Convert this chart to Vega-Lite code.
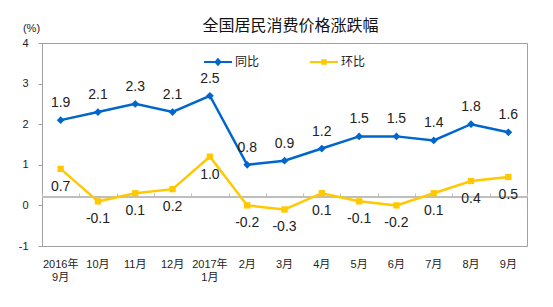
{
  "$schema": "https://vega.github.io/schema/vega-lite/v6.json",
  "width": 485,
  "height": 203,
  "autosize": {"type": "none"},
  "padding": {"left": 42, "top": 43, "right": 26, "bottom": 61},
  "background": "white",
  "config": {
    "view": {"stroke": "#a0a0a0", "strokeWidth": 1},
    "font": "Liberation Sans, Noto Sans CJK SC",
    "locale": {"number": {"decimal": ".", "thousands": ",", "grouping": [3], "currency": ["", ""], "minus": "-"}},
    "legend": {
      "orient": "none", "legendX": 162, "legendY": 5, "direction": "horizontal",
      "title": null, "columns": 2, "columnPadding": 50, "padding": 0,
      "symbolSize": 784, "symbolOpacity": 1, "symbolStrokeWidth": 0,
      "labelFont": "Noto Sans CJK SC", "labelFontSize": 12, "labelColor": "#222222", "labelOffset": 3
    }
  },
  "title": {
    "text": "全国居民消费价格涨跌幅",
    "font": "Noto Sans CJK SC",
    "fontSize": 16,
    "fontWeight": "normal",
    "color": "#111111",
    "anchor": "middle",
    "dx": 6,
    "offset": -12
  },
  "data": {
    "values": [
      {"month": "2016年|9月", "series": "同比", "value": 1.9},
      {"month": "10月", "series": "同比", "value": 2.1},
      {"month": "11月", "series": "同比", "value": 2.3},
      {"month": "12月", "series": "同比", "value": 2.1},
      {"month": "2017年|1月", "series": "同比", "value": 2.5},
      {"month": "2月", "series": "同比", "value": 0.8},
      {"month": "3月", "series": "同比", "value": 0.9},
      {"month": "4月", "series": "同比", "value": 1.2},
      {"month": "5月", "series": "同比", "value": 1.5},
      {"month": "6月", "series": "同比", "value": 1.5},
      {"month": "7月", "series": "同比", "value": 1.4},
      {"month": "8月", "series": "同比", "value": 1.8},
      {"month": "9月", "series": "同比", "value": 1.6},
      {"month": "2016年|9月", "series": "环比", "value": 0.7},
      {"month": "10月", "series": "环比", "value": -0.1},
      {"month": "11月", "series": "环比", "value": 0.1},
      {"month": "12月", "series": "环比", "value": 0.2},
      {"month": "2017年|1月", "series": "环比", "value": 1.0},
      {"month": "2月", "series": "环比", "value": -0.2},
      {"month": "3月", "series": "环比", "value": -0.3},
      {"month": "4月", "series": "环比", "value": 0.1},
      {"month": "5月", "series": "环比", "value": -0.1},
      {"month": "6月", "series": "环比", "value": -0.2},
      {"month": "7月", "series": "环比", "value": 0.1},
      {"month": "8月", "series": "环比", "value": 0.4},
      {"month": "9月", "series": "环比", "value": 0.5}
    ]
  },
  "resolve": {"axis": {"x": "independent"}},
  "layer": [
    {
      "mark": {"type": "rule", "color": "#bfbfbf", "strokeWidth": 1},
      "encoding": {
        "y": {"datum": 0, "type": "quantitative"}
      }
    },
    {
      "mark": {"type": "line", "strokeWidth": 2.5},
      "encoding": {
        "x": {
          "field": "month", "type": "nominal", "sort": null,
          "scale": {"paddingInner": 0, "paddingOuter": 0},
          "axis": {
            "orient": "bottom", "title": null, "domain": false, "ticks": false,
            "labelAngle": 0, "labelExpr": "split(datum.value, '|')",
            "labelFont": "Liberation Sans, Noto Sans CJK SC", "labelFontSize": 11,
            "labelColor": "#222222", "labelPadding": 12, "labelLineHeight": 13,
            "labelBaseline": "top"
          }
        },
        "y": {
          "field": "value", "type": "quantitative",
          "scale": {"domain": [-1.2, 3.8], "nice": false, "zero": false},
          "axis": {
            "values": [-1.2, -0.2, 0.8, 1.8, 2.8, 3.8],
            "labelExpr": "format(round(datum.value + 0.2), 'd')",
            "grid": false, "domain": false, "tickSize": 4, "tickColor": "#a0a0a0",
            "labelFontSize": 11, "labelColor": "#222222", "labelPadding": 10,
            "title": "(%)", "titleAngle": 0, "titleX": -11, "titleY": -15,
            "titleAlign": "center", "titleBaseline": "middle",
            "titleFontSize": 11, "titleFontWeight": "normal", "titleColor": "#222222"
          }
        },
        "color": {
          "field": "series", "type": "nominal",
          "scale": {"domain": ["同比", "环比"], "range": ["#0066cc", "#ffc800"]}
        }
      }
    },
    {
      "mark": {"type": "point", "opacity": 0, "filled": true},
      "encoding": {
        "x": {
          "field": "month", "type": "nominal", "sort": null,
          "axis": {
            "orient": "top", "offset": -154, "title": null, "labels": false,
            "domain": false, "ticks": true, "tickBand": "extent", "tickSize": 4, "tickColor": "#bfbfbf"
          }
        },
        "y": {"field": "value", "type": "quantitative"},
        "color": {"field": "series", "type": "nominal"},
        "shape": {
          "field": "series", "type": "nominal",
          "scale": {"domain": ["同比", "环比"], "range": [
            "M-1,-0.08H1V0.08H-1Z M0,-0.3L0.27,0L0,0.3L-0.27,0Z",
            "M-1,-0.08H1V0.08H-1Z M-0.2,-0.2H0.2V0.2H-0.2Z"
          ]}
        }
      }
    },
    {
      "transform": [{"filter": "datum.series === '同比'"}],
      "mark": {"type": "point", "shape": "diamond", "filled": true, "size": 60, "opacity": 1, "color": "#0066cc"},
      "encoding": {
        "x": {"field": "month", "type": "nominal", "sort": null, "axis": null},
        "y": {"field": "value", "type": "quantitative"}
      }
    },
    {
      "transform": [{"filter": "datum.series === '环比'"}],
      "mark": {"type": "point", "shape": "square", "filled": true, "size": 40, "opacity": 1, "color": "#ffc800"},
      "encoding": {
        "x": {"field": "month", "type": "nominal", "sort": null, "axis": null},
        "y": {"field": "value", "type": "quantitative"}
      }
    },
    {
      "transform": [{"filter": "datum.series === '同比'"}],
      "mark": {"type": "text", "dy": -17, "fontSize": 14, "color": "#222222", "baseline": "middle"},
      "encoding": {
        "x": {"field": "month", "type": "nominal", "sort": null, "axis": null},
        "y": {"field": "value", "type": "quantitative"},
        "text": {"field": "value", "type": "quantitative", "format": ".1f"}
      }
    },
    {
      "transform": [{"filter": "datum.series === '环比'"}],
      "mark": {"type": "text", "dy": 18, "fontSize": 14, "color": "#222222", "baseline": "middle"},
      "encoding": {
        "x": {"field": "month", "type": "nominal", "sort": null, "axis": null},
        "y": {"field": "value", "type": "quantitative"},
        "text": {"field": "value", "type": "quantitative", "format": ".1f"}
      }
    }
  ]
}
